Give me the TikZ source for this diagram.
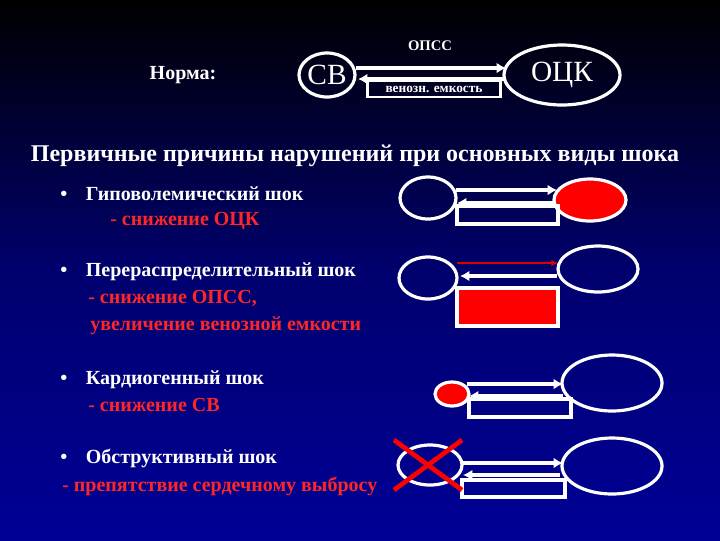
\documentclass[tikz,border=0pt]{standalone}
\usepackage{fontspec}
\setmainfont{Liberation Serif}
\usetikzlibrary{arrows.meta}
\begin{document}
\begin{tikzpicture}[x=0.75pt,y=-0.75pt,
  wl/.style={draw=white,line width=2.4pt},
  ar/.style={draw=white,line width=2.6pt,-{Latex[length=7pt,width=8pt]}},
  wt/.style={text=white,font=\bfseries\fontsize{15}{17}\selectfont,anchor=west,inner sep=0},
  rt/.style={text=red!85!white,font=\bfseries\fontsize{15}{17}\selectfont,anchor=west,inner sep=0}]
\shade[top color=black,bottom color={rgb,255:red,0;green,0;blue,150},middle color={rgb,255:red,0;green,0;blue,110}] (0,0) rectangle (720,540);
\useasboundingbox (0,0) rectangle (720,540);
% top
\node[text=white,font=\bfseries\fontsize{15}{17}\selectfont] (norma) at (183,75) {Норма:};
\draw[wl] (327,75) ellipse [x radius=28,y radius=22];
\node[text=white,font=\fontsize{22}{24}\selectfont] (cv) at (327,75) {СВ};
\draw[wl] (562,75) ellipse [x radius=58,y radius=30];
\node[text=white,font=\fontsize{22}{24}\selectfont] (ock) at (562,75) {ОЦК};
\coordinate (a1) at (356,68); \coordinate (a2) at (506,68);
\coordinate (b1) at (505,79); \coordinate (b2) at (358,79);
\draw[ar] (a1) -- (a2); \draw[ar] (b1) -- (b2);
\node[draw=white,line width=2pt,text=white,font=\bfseries\fontsize{10}{11}\selectfont,inner sep=1pt,minimum width=100pt,minimum height=12pt] (ven) at (434,89) {венозн. емкость};
\node[text=white,font=\bfseries\fontsize{11}{12}\selectfont] (opss) at (430,46) {ОПСС};
\node[text=white,font=\bfseries\fontsize{18}{20}\selectfont] (title) at (355,156) {Первичные причины нарушений при основных виды шока};
% texts
\node[wt] (t1) at (60,194) {•\hspace{14pt}Гиповолемический шок};
\node[rt] (s1) at (110,221) {- снижение ОЦК};
\node[wt] (t2) at (60,272) {•\hspace{14pt}Перераспределительный шок};
\node[rt] (s2) at (88,298) {- снижение ОПСС,};
\node[rt] (s2b) at (90,326) {увеличение венозной емкости};
\node[wt] (t3) at (60,380) {•\hspace{14pt}Кардиогенный шок};
\node[rt] (s3) at (88,405) {- снижение СВ};
\node[wt] (t4) at (60,458) {•\hspace{14pt}Обструктивный шок};
\node[rt] (s4) at (62,486) {- препятствие сердечному выбросу};
% row1
\draw[wl] (428,198) ellipse [x radius=28,y radius=21];
\draw[wl,fill=red] (590,200) ellipse [x radius=36,y radius=21];
\draw[ar] (456,190) -- (557,190); \draw[ar] (555,203) -- (457,203);
\draw[wl] (457,206) rectangle (558,224);
% row2
\draw[wl] (428,278) ellipse [x radius=29,y radius=21];
\draw[wl] (598,269) ellipse [x radius=40,y radius=23];
\draw[draw=red!85!black,line width=1.2pt,-{Latex[length=5pt,width=5pt]}] (457,263) -- (558,263);
\draw[ar] (557,276) -- (460,276);
\draw[wl,fill=red] (457,288) rectangle (558,326);
% row3
\draw[wl,fill=red] (452,394) ellipse [x radius=17,y radius=12];
\draw[wl] (612,383) ellipse [x radius=50,y radius=28];
\draw[ar] (467,384) -- (563,384); \draw[ar] (563,396) -- (469,396);
\draw[wl] (469,399) rectangle (571,417);
% row4
\draw[wl] (430,465) ellipse [x radius=32,y radius=20];
\draw[wl] (612,466) ellipse [x radius=50,y radius=28];
\draw[ar] (462,463) -- (563,463); \draw[ar] (560,475) -- (463,475);
\draw[wl] (462,480) rectangle (565,497);
\draw[red,line width=3.5pt] (394,440) -- (462,490) (462,440) -- (394,490);
\end{tikzpicture}
\end{document}
